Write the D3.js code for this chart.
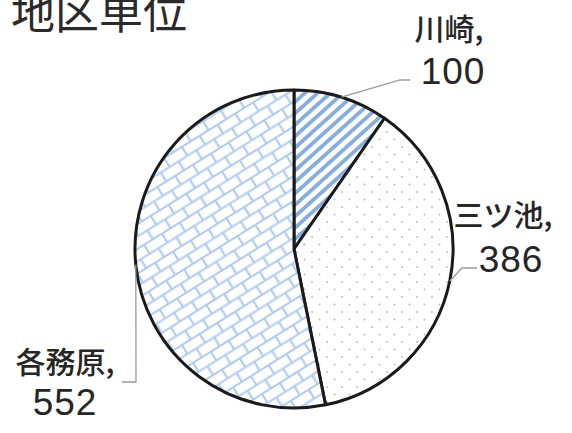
<!DOCTYPE html>
<html>
<head>
<meta charset="utf-8">
<script src="https://cdn.jsdelivr.net/npm/d3@7"></script>
<style>
  body { margin: 0; background: #fff; }
</style>
</head>
<body>
<svg id="target"></svg>
<script>
const names = ["川崎", "三ツ池", "各務原"];
const values = [100, 386, 552];
const title = "地区単位";

const width = 572;
const height = 433;
const cx = 294, cy = 249, radius = 159;
const cjk = "'Noto Sans CJK JP', sans-serif";
const latin = "'Liberation Sans', Arial, sans-serif";

const svg = d3.select('#target')
  .attr('width', width)
  .attr('height', height);

const defs = svg.append("defs");

// stripes for 川崎
const stripes = defs.append("pattern")
    .attr("id", "p-stripe")
    .attr("patternUnits", "userSpaceOnUse")
    .attr("width", 8.5).attr("height", 8.5)
    .attr("patternTransform", "rotate(-42)");
stripes.append("rect").attr("width", 8.5).attr("height", 8.5).attr("fill", "#fff");
stripes.append("rect").attr("width", 8.5).attr("height", 3.8).attr("fill", "#86addb");

// dots for 三ツ池
const dots = defs.append("pattern")
    .attr("id", "p-dots")
    .attr("patternUnits", "userSpaceOnUse")
    .attr("width", 15).attr("height", 15);
dots.append("rect").attr("width", 15).attr("height", 15).attr("fill", "#fff");
dots.append("circle").attr("cx", 3).attr("cy", 3).attr("r", 0.9).attr("fill", "#b4b8bc");
dots.append("circle").attr("cx", 10.5).attr("cy", 10.5).attr("r", 0.9).attr("fill", "#b4b8bc");

// bricks for 各務原
const bricks = defs.append("pattern")
    .attr("id", "p-brick")
    .attr("patternUnits", "userSpaceOnUse")
    .attr("width", 21).attr("height", 21)
    .attr("patternTransform", "rotate(-32)");
bricks.append("rect").attr("width", 21).attr("height", 21).attr("fill", "#fff");
bricks.append("path")
    .attr("d", "M0,1H21 M0,11.5H21 M1,0V10.5 M11.5,10.5V21")
    .attr("stroke", "#afcbee").attr("stroke-width", 2.2).attr("fill", "none");

const fills = ["url(#p-stripe)", "url(#p-dots)", "url(#p-brick)"];

const pie = d3.pie().sort(null).value(d => d);
const arc = d3.arc().innerRadius(0).outerRadius(radius);
const arcs = pie(values);

const g = svg.append("g").attr("transform", "translate(" + cx + "," + cy + ")");

g.selectAll(".slice")
  .data(arcs)
  .enter().append("path")
    .attr("class", "slice")
    .attr("d", arc)
    .attr("fill", (d, i) => fills[i])
    .attr("stroke", "#1a1a1a")
    .attr("stroke-width", 3)
    .attr("stroke-linejoin", "round");

// leader lines start at the slice mid-angle on the rim
function rim(d) {
  const a = (d.startAngle + d.endAngle) / 2;
  return [cx + radius * Math.sin(a), cy - radius * Math.cos(a)];
}
const labelPos = [
  { bend: [400, 80], end: [410, 80], name: [449, 40], num: [453, 84] },
  { bend: [462, 268], end: [477, 268], name: [503, 226], num: [511, 272] },
  { bend: [136, 382], end: [122, 382], name: [65, 373], num: [65, 415] }
];

arcs.forEach((d, i) => {
  const L = labelPos[i];
  svg.append("path")
    .attr("d", d3.line()([rim(d), L.bend, L.end]))
    .attr("fill", "none")
    .attr("stroke", "#9a9a9a")
    .attr("stroke-width", 1.3);

  svg.append("text")
    .attr("x", L.name[0]).attr("y", L.name[1])
    .attr("text-anchor", "middle")
    .style("font-family", cjk)
    .style("font-size", "30px")
    .style("font-weight", 500)
    .style("fill", "#262626")
    .text(names[i] + ",");
  svg.append("text")
    .attr("x", L.num[0]).attr("y", L.num[1])
    .attr("text-anchor", "middle")
    .style("font-family", latin)
    .style("font-size", "37px")
    .style("letter-spacing", "1px")
    .style("fill", "#262626")
    .text(values[i]);
});

svg.append("text")
  .attr("x", 11).attr("y", 29)
  .style("font-family", cjk)
  .style("font-size", "44px")
  .style("fill", "#2a2a2a")
  .text(title);
</script>
</body>
</html>
